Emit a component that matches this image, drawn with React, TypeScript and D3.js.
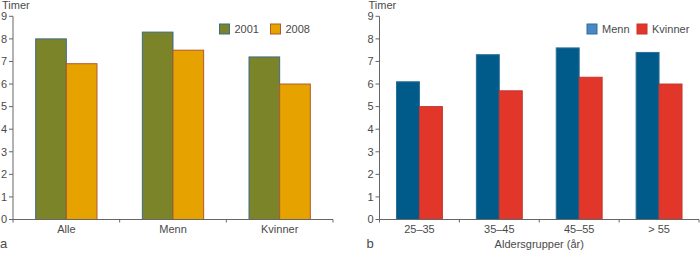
import React from "react";
import * as d3 from "d3";

// panel a
const groupsA = ["Alle", "Menn", "Kvinner"];
const seriesA = ["2001", "2008"];
const values2001 = [8.0, 8.3, 7.2];
const values2008 = [6.9, 7.5, 6.0];

// panel b
const groupsB = ["25–35", "35–45", "45–55", "> 55"];
const seriesB = ["Menn", "Kvinner"];
const valuesMenn = [6.1, 7.3, 7.6, 7.4];
const valuesKvinner = [5.0, 5.7, 6.3, 6.0];

const yTicks = [0, 1, 2, 3, 4, 5, 6, 7, 8, 9];

const textColor = "#4a4a4a";
const font = "'Liberation Sans', Arial, sans-serif";

type Panel = {
  left: number;
  right: number;
  groups: string[];
  series: string[];
  values: number[][];
  fills: string[];
  strokes: string[];
  legendFills: string[];
  legendX: number[];
  letter: string;
  xTitle?: string;
};

const Chart = ({ p }: { p: Panel }) => {
  const y = d3.scaleLinear().domain([0, 9]).range([219.5, 16.3]);
  const x0 = d3.scaleBand().domain(p.groups).range([p.left, p.right]).padding(0);
  const x1 = d3
    .scaleBand()
    .domain(p.series)
    .range([0, x0.step()])
    .paddingInner(0)
    .paddingOuter(0.74);
  const edges = p.groups.map((g) => x0(g)!).concat([p.right]);

  return (
    <g fontFamily={font} fill={textColor}>
      <text x={p.left - 11} y={9} fontSize={11}>
        Timer
      </text>
      {/* y axis */}
      <line x1={p.left} x2={p.left} y1={y(0)} y2={y(9)} stroke="#666" />
      {yTicks.map((t) => (
        <g key={t}>
          <line x1={p.left - 4} x2={p.left} y1={y(t)} y2={y(t)} stroke="#666" />
          <text x={p.left - 6} y={y(t)} dy="0.35em" textAnchor="end" fontSize={11}>
            {t}
          </text>
        </g>
      ))}
      {/* bars */}
      {p.groups.map((g, i) =>
        p.series.map((s, j) => (
          <rect
            key={g + s}
            x={x0(g)! + x1(s)!}
            y={y(p.values[j][i])}
            width={x1.bandwidth()}
            height={y(0) - y(p.values[j][i])}
            fill={p.fills[j]}
            stroke={p.strokes[j]}
            strokeWidth={1}
          />
        ))
      )}
      {/* x axis */}
      <line x1={p.left} x2={p.right} y1={y(0)} y2={y(0)} stroke="#666" />
      {edges.map((e, i) => (
        <line key={i} x1={e} x2={e} y1={y(0)} y2={y(0) + 3} stroke="#666" />
      ))}
      {p.groups.map((g) => (
        <text
          key={g}
          x={x0(g)! + x0.bandwidth() / 2}
          y={233}
          textAnchor="middle"
          fontSize={11}
        >
          {g}
        </text>
      ))}
      {p.xTitle && (
        <text
          x={(p.left + p.right) / 2}
          y={248}
          textAnchor="middle"
          fontSize={11}
        >
          {p.xTitle}
        </text>
      )}
      <text x={p.left - 13} y={248} fontSize={13}>
        {p.letter}
      </text>
      {/* legend */}
      {p.series.map((s, j) => (
        <g key={s}>
          <rect
            x={p.legendX[j]}
            y={24}
            width={10}
            height={10}
            fill={p.legendFills[j]}
            stroke={p.strokes[j]}
          />
          <text x={p.legendX[j] + 15} y={29} dy="0.35em" fontSize={11}>
            {s}
          </text>
        </g>
      ))}
    </g>
  );
};

export default function App() {
  const a: Panel = {
    left: 13,
    right: 333,
    groups: groupsA,
    series: seriesA,
    values: [values2001, values2008],
    fills: ["#7b8429", "#e6a300"],
    strokes: ["#3d6b8a", "#b2582c"],
    legendFills: ["#7b8429", "#e6a300"],
    legendX: [219.5, 270.5],
    letter: "a",
  };
  const b: Panel = {
    left: 379.5,
    right: 699,
    groups: groupsB,
    series: seriesB,
    values: [valuesMenn, valuesKvinner],
    fills: ["#005b8b", "#e2362a"],
    strokes: ["#2f6f96", "#c4352a"],
    legendFills: ["#4b86c6", "#e2362a"],
    legendX: [587, 637],
    letter: "b",
    xTitle: "Aldersgrupper (år)",
  };
  return (
    <svg
      width={700}
      height={253}
      style={{ position: "absolute", left: 0, top: 0, background: "#fff" }}
    >
      <Chart p={a} />
      <Chart p={b} />
    </svg>
  );
}
